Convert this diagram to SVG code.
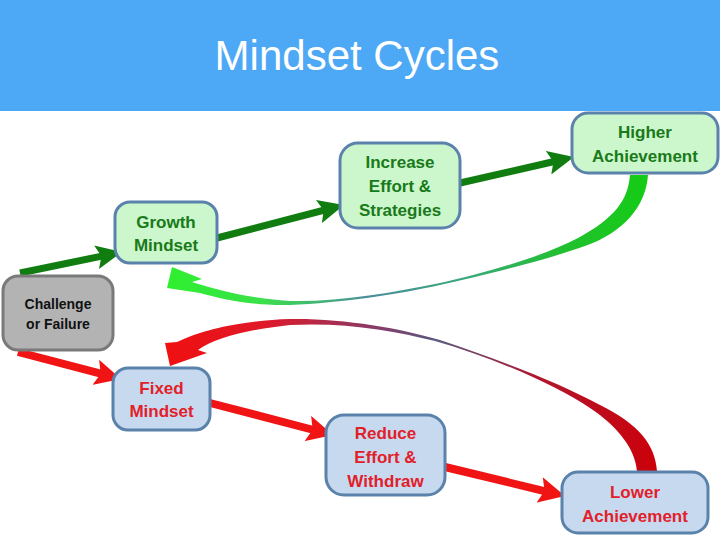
<svg xmlns="http://www.w3.org/2000/svg" width="720" height="540" viewBox="0 0 720 540">
<style>
.gbox{fill:#ccf6cc;stroke:#5b82ab;stroke-width:3}
.bbox{fill:#c6d9ef;stroke:#5b82ab;stroke-width:3}
.xbox{fill:#b3b3b3;stroke:#7a7a7a;stroke-width:3}
.t{font-family:"Liberation Sans",Arial,sans-serif;font-weight:bold;font-size:17px;text-anchor:middle}
.tg{fill:#187a18}
.tr{fill:#e2202a}
.tk{fill:#111;font-size:14px}
.ga{stroke:#117d11;stroke-width:7;fill:none}
.ra{stroke:#f01414;stroke-width:8;fill:none}
</style>
<defs>
<marker id="hg" markerUnits="userSpaceOnUse" markerWidth="26" markerHeight="24" viewBox="0 0 26 24" refX="8" refY="12" orient="auto">
<path d="M0,0 L26,12 L0,24 L5,12 Z" fill="#117d11"/>
</marker>
<marker id="hr" markerUnits="userSpaceOnUse" markerWidth="26" markerHeight="26" viewBox="0 0 26 26" refX="8" refY="13" orient="auto">
<path d="M0,0 L26,13 L0,26 L5,13 Z" fill="#f01414"/>
</marker>
<linearGradient id="gg" gradientUnits="userSpaceOnUse" x1="165" y1="0" x2="650" y2="0">
<stop offset="0" stop-color="#2ef02e"/>
<stop offset="0.2" stop-color="#3ae04a"/>
<stop offset="0.42" stop-color="#4a8e9c"/>
<stop offset="0.62" stop-color="#3aa87a"/>
<stop offset="0.82" stop-color="#22c030"/>
<stop offset="1" stop-color="#14cc14"/>
</linearGradient>
<linearGradient id="rg" gradientUnits="userSpaceOnUse" x1="165" y1="0" x2="660" y2="0">
<stop offset="0" stop-color="#f01010"/>
<stop offset="0.2" stop-color="#e01828"/>
<stop offset="0.42" stop-color="#8a3a66"/>
<stop offset="0.55" stop-color="#5a5a80"/>
<stop offset="0.75" stop-color="#b01830"/>
<stop offset="1" stop-color="#cc0008"/>
</linearGradient>
</defs>
<rect x="0" y="0" width="720" height="111" fill="#4da8f5"/>
<text x="357" y="70" font-family="'Liberation Sans',Arial,sans-serif" font-size="42" fill="#ffffff" text-anchor="middle">Mindset Cycles</text>
<g id="connectors">
<line class="ga" x1="20" y1="273" x2="104.4" y2="255.6" marker-end="url(#hg)"/>
<line class="ga" x1="217" y1="238" x2="326.6" y2="209.5" marker-end="url(#hg)"/>
<line class="ga" x1="460" y1="183" x2="556.4" y2="161" marker-end="url(#hg)"/>
<line class="ra" x1="18" y1="352" x2="103.6" y2="374.4" marker-end="url(#hr)"/>
<line class="ra" x1="210" y1="403" x2="315.6" y2="430.5" marker-end="url(#hr)"/>
<line class="ra" x1="445" y1="467" x2="547.5" y2="491.8" marker-end="url(#hr)"/>
<path d="M648,175 C646,205 625,232 585,246 C540,262 480,276 440,285 C400,294 340,303 290,305 C255,306 225,300 200,293 L167,288 L172,267 L202,279 L192,282 C215,289 245,298 290,301 C340,302 390,293 440,283 C480,274 540,258 578,238 C615,218 628,200 630,175 Z" fill="url(#gg)"/>
<path d="M657,471 C655,445 640,425 600,405 C560,383 500,360 440,340 C400,328 340,318 290,319 C250,320 205,328 177,342 L165,343 L170,366 L207,353 L198,350 C215,338 245,330 290,325 C345,322 395,331 435,341 C495,358 555,385 590,408 C620,428 635,450 637,471 Z" fill="url(#rg)"/>
</g>
<g id="challenge">
<rect class="xbox" x="3" y="276" width="110" height="74" rx="15"/>
<text class="t tk" x="58" y="309">Challenge</text>
<text class="t tk" x="58" y="329">or Failure</text>
</g>
<g id="growth">
<rect class="gbox" x="115" y="202" width="102" height="61" rx="15"/>
<text class="t tg" x="166" y="228">Growth</text>
<text class="t tg" x="166" y="251">Mindset</text>
</g>
<g id="increase">
<rect class="gbox" x="340" y="143" width="120" height="85" rx="18"/>
<text class="t tg" x="400" y="168">Increase</text>
<text class="t tg" x="400" y="192">Effort &amp;</text>
<text class="t tg" x="400" y="216">Strategies</text>
</g>
<g id="higher">
<rect class="gbox" x="572" y="113" width="146" height="60" rx="16"/>
<text class="t tg" x="645" y="138">Higher</text>
<text class="t tg" x="645" y="162">Achievement</text>
</g>
<g id="fixed">
<rect class="bbox" x="113" y="368" width="97" height="62" rx="15"/>
<text class="t tr" x="161.5" y="394">Fixed</text>
<text class="t tr" x="161.5" y="417">Mindset</text>
</g>
<g id="reduce">
<rect class="bbox" x="326" y="415" width="119" height="80" rx="18"/>
<text class="t tr" x="385.5" y="439">Reduce</text>
<text class="t tr" x="385.5" y="463">Effort &amp;</text>
<text class="t tr" x="385.5" y="487">Withdraw</text>
</g>
<g id="lower">
<rect class="bbox" x="562" y="472" width="146" height="61" rx="16"/>
<text class="t tr" x="635" y="498">Lower</text>
<text class="t tr" x="635" y="522">Achievement</text>
</g>
</svg>
